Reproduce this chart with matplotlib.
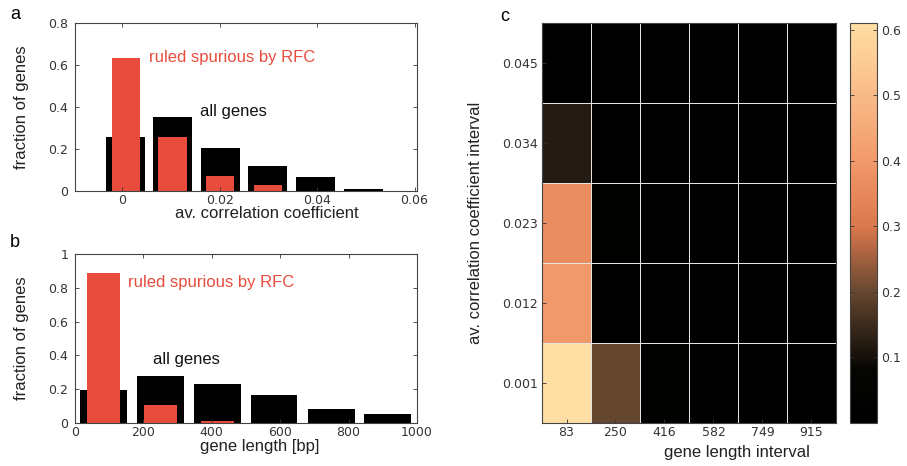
import numpy as np
import matplotlib
matplotlib.use("Agg")
import matplotlib.pyplot as plt
from matplotlib.colors import LinearSegmentedColormap

# panel a: av. correlation coefficient histogram
corr_centers = [0.0007, 0.0103, 0.0201, 0.0299, 0.0397, 0.0495]
corr_all = [0.259, 0.354, 0.206, 0.118, 0.068, 0.008]
corr_rfc = [0.632, 0.259, 0.073, 0.029, 0.0, 0.0]

# panel b: gene length histogram
len_centers = [83, 250, 416, 582, 749, 915]
len_all = [0.194, 0.277, 0.233, 0.166, 0.085, 0.055]
len_rfc = [0.885, 0.107, 0.012, 0.0, 0.0, 0.0]

# panel c: fraction ruled spurious per (length, correlation) cell
len_labels = ["83", "250", "416", "582", "749", "915"]
corr_labels = ["0.001", "0.012", "0.023", "0.034", "0.045"]
heat = np.array([
    [0.61, 0.20, 0.01, 0.0, 0.0, 0.0],   # 0.001
    [0.40, 0.02, 0.0, 0.0, 0.0, 0.0],    # 0.012
    [0.36, 0.01, 0.0, 0.0, 0.0, 0.0],    # 0.023
    [0.12, 0.0, 0.0, 0.0, 0.0, 0.0],     # 0.034
    [0.0, 0.0, 0.0, 0.0, 0.0, 0.0],      # 0.045
])

red = '#e84c3d'
tick_col = '#333333'
plt.rcParams['font.family'] = ['Liberation Sans', 'DejaVu Sans']

fig = plt.figure(figsize=(9.07, 4.66), dpi=100)


def style_ax(ax):
    ax.tick_params(direction='in', top=True, right=True, length=3, width=0.6,
                   colors=tick_col, labelsize=9)
    ax.tick_params(axis='x', pad=2)
    ax.tick_params(axis='y', pad=5)
    for lab in ax.get_xticklabels() + ax.get_yticklabels():
        lab.set_fontfamily('DejaVu Sans')
    for s in ax.spines.values():
        s.set_color('#444444')
        s.set_linewidth(0.8)


# ---- a ----
axa = fig.add_axes([0.0827, 0.590, 0.377, 0.3605])
axa.bar(corr_centers, corr_all, width=0.0080, color='black')
axa.bar(corr_centers, corr_rfc, width=0.0058, color=red)
axa.set_xlim(-0.0097, 0.0605)
axa.set_ylim(0, 0.8)
axa.set_xticks([0, 0.02, 0.04, 0.06])
axa.set_xticklabels(['0', '0.02', '0.04', '0.06'])
axa.set_yticks([0, 0.2, 0.4, 0.6, 0.8])
axa.set_yticklabels(['0', '0.2', '0.4', '0.6', '0.8'])
style_ax(axa)
axa.set_xlabel('av. correlation coefficient', fontsize=12, color='#222222')
axa.xaxis.set_label_coords(0.56, -0.09)
axa.set_ylabel('fraction of genes', fontsize=12, color='#222222')
axa.yaxis.set_label_coords(-0.135, 0.5)
axa.text(0.0054, 0.638, 'ruled spurious by RFC', color=red, fontsize=12, va='center')
axa.text(0.0159, 0.381, 'all genes', color='#111111', fontsize=12, va='center')

# ---- b ----
axb = fig.add_axes([0.0827, 0.0923, 0.377, 0.3627])
axb.bar(len_centers, len_all, width=137, color='black')
axb.bar(len_centers, len_rfc, width=97, color=red)
axb.set_xlim(0, 1000)
axb.set_ylim(0, 1)
axb.set_xticks([0, 200, 400, 600, 800, 1000])
axb.set_yticks([0, 0.2, 0.4, 0.6, 0.8, 1])
axb.set_yticklabels(['0', '0.2', '0.4', '0.6', '0.8', '1'])
style_ax(axb)
axb.set_xlabel('gene length [bp]', fontsize=12, color='#222222')
axb.xaxis.set_label_coords(0.54, -0.095)
axb.set_ylabel('fraction of genes', fontsize=12, color='#222222')
axb.yaxis.set_label_coords(-0.135, 0.5)
axb.text(155, 0.834, 'ruled spurious by RFC', color=red, fontsize=12, va='center')
axb.text(228, 0.373, 'all genes', color='#111111', fontsize=12, va='center')

# ---- c ----
vmax = 0.61
cmap = LinearSegmentedColormap.from_list('rfc', [
    (0.0, (0, 0, 0)),
    (0.08 / vmax, (0.02, 0.02, 0.01)),
    (0.20 / vmax, (0.40, 0.28, 0.19)),
    (0.30 / vmax, (0.86, 0.47, 0.30)),
    (0.40 / vmax, (0.95, 0.60, 0.42)),
    (1.0, (1.0, 0.87, 0.64)),
])
axc = fig.add_axes([0.5976, 0.0923, 0.324, 0.858])
mesh = axc.pcolormesh(np.arange(7), np.arange(6), heat, cmap=cmap, vmin=0, vmax=vmax,
                      edgecolors='#e4e4e4', linewidth=0.7)
axc.set_xlim(0, 6)
axc.set_ylim(0, 5)
axc.set_xticks(np.arange(6) + 0.5)
axc.set_xticklabels(len_labels)
axc.set_yticks(np.arange(5) + 0.5)
axc.set_yticklabels(corr_labels)
style_ax(axc)
axc.tick_params(top=False, right=False, length=3)
axc.tick_params(axis='y', pad=3)
axc.set_xlabel('gene length interval', fontsize=12, color='#222222')
axc.xaxis.set_label_coords(0.663, -0.055)
axc.set_ylabel('av. correlation coefficient interval', fontsize=12, color='#222222')
axc.yaxis.set_label_coords(-0.20, 0.5)

cax = fig.add_axes([0.937, 0.0923, 0.0298, 0.858])
cb = fig.colorbar(mesh, cax=cax)
cb.set_ticks([0.1, 0.2, 0.3, 0.4, 0.5, 0.6])
cb.ax.tick_params(direction='in', left=True, right=True, length=3, width=0.6,
                  colors=tick_col, labelsize=9, pad=3)
for lab in cb.ax.get_yticklabels():
    lab.set_fontfamily('DejaVu Sans')
cb.outline.set_edgecolor('#444444')
cb.outline.set_linewidth(0.8)

fig.text(0.011, 0.968, 'a', fontsize=13, va='center')
fig.text(0.011, 0.480, 'b', fontsize=13, va='center')
fig.text(0.551, 0.964, 'c', fontsize=13, va='center')

fig.savefig('out.png', dpi=100)
